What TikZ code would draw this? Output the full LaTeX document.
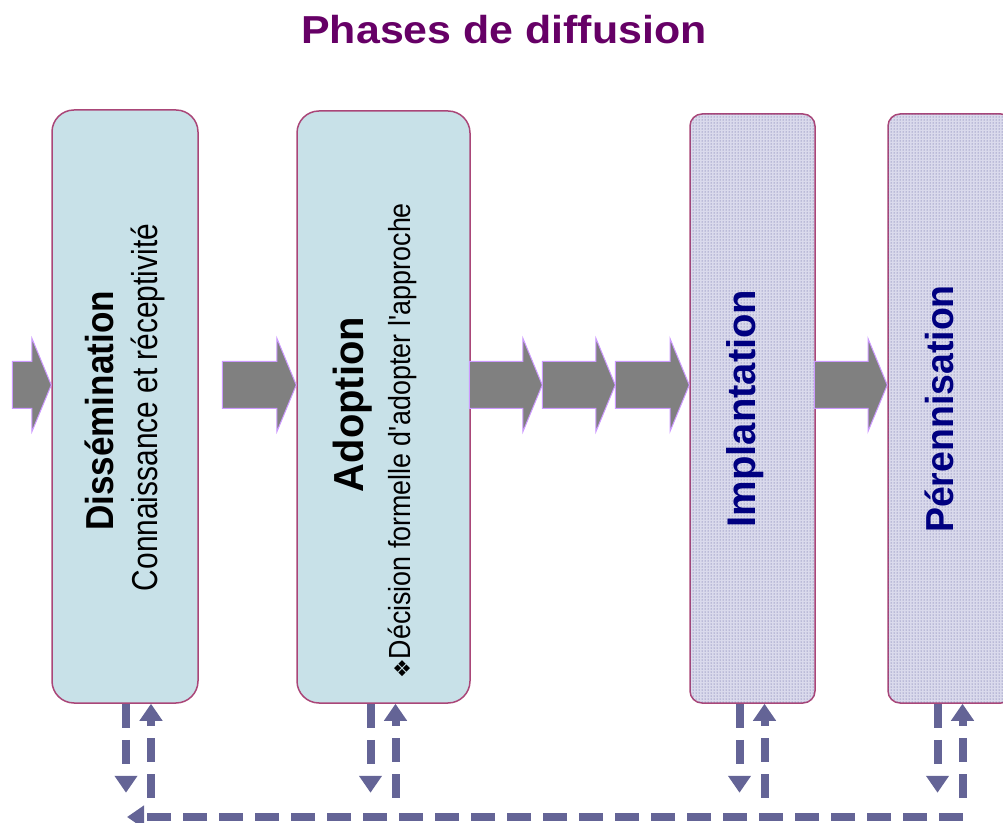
\documentclass[tikz,border=0pt]{standalone}
\usepackage{fontspec}
\setmainfont{Liberation Sans}
\newfontfamily\dingfont{DejaVu Sans}
\usetikzlibrary{shapes.arrows,arrows.meta,patterns}

\definecolor{titlec}{RGB}{102,0,102}
\definecolor{phasefill}{RGB}{200,225,232}
\definecolor{phaseline}{RGB}{170,70,120}
\definecolor{laterfill}{RGB}{218,218,236}
\definecolor{dotc}{RGB}{80,80,150}
\definecolor{namec}{RGB}{0,0,128}
\definecolor{fbc}{RGB}{100,100,150}
\definecolor{flowline}{RGB}{204,153,255}

\newcommand\fsz[1]{\fontsize{#1}{#1}\selectfont}

\tikzstyle{phase}=[draw=phaseline,line width=1.5pt,fill=phasefill,rounded corners=22pt,inner sep=0pt]
\tikzstyle{later}=[draw=phaseline,line width=1.5pt,fill=laterfill,rounded corners=12pt,inner sep=0pt,postaction={pattern=dots,pattern color=dotc}]
\tikzstyle{flow}=[single arrow,draw=flowline,line width=1pt,fill=gray,inner xsep=0pt,inner ysep=23pt,outer sep=0pt,single arrow head extend=23pt,single arrow tip angle=135,anchor=tip]
\tikzstyle{vtitle}=[rotate=90,anchor=base,inner sep=0pt]
\tikzstyle{fb}=[draw=fbc,line width=8pt,dash pattern=on 24pt off 12pt,-{Triangle[width=22pt,length=17pt]}]

\begin{document}
\begin{tikzpicture}[x=1pt,y=1pt]
  \clip (0,0) rectangle (1003,822);
  % title
  \node[anchor=base,text=titlec,font=\fsz{39}\bfseries\addfontfeature{FakeStretch=1.1}] (title) at (504,778) {Phases de diffusion};

  % phases
  \node[phase,minimum width=146pt,minimum height=593pt] (dis) at (125,415.5) {};
  \node[phase,minimum width=173pt,minimum height=592pt] (ado) at (383.5,415) {};
  \node[later,minimum width=125pt,minimum height=589pt] (imp) at (752.5,413.5) {};
  \node[later,minimum width=125pt,minimum height=589pt] (per) at (950.5,413.5) {};

  \node[vtitle,font=\fsz{39}\bfseries\addfontfeature{FakeStretch=0.9}] (dis-t) at (113,411) {Dissémination};
  \node[vtitle,font=\fsz{36}\addfontfeature{FakeStretch=0.83}] (dis-s) at (157,414.5) {Connaissance et réceptivité};
  \node[vtitle,font=\fsz{42}\bfseries\addfontfeature{FakeStretch=0.95}] (ado-t) at (363,417.5) {Adoption};
  \node[vtitle,font=\fsz{30.5}\addfontfeature{FakeStretch=0.88}] (ado-s) at (410,381) {{\dingfont\fsz{22}❖}Décision formelle d\textquotesingle adopter l\textquotesingle approche};
  \node[vtitle,text=namec,font=\fsz{40}\bfseries] (imp-t) at (755,413.5) {Implantation};
  \node[vtitle,text=namec,font=\fsz{39}\bfseries\addfontfeature{FakeStretch=0.96}] (per-t) at (953,413) {Pérennisation};

  % flow between phases
  \node[flow,minimum height=39pt] (f1) at ([yshift=21.5pt]dis.west) {};
  \node[flow,minimum height=74pt] (f2) at ([yshift=22pt]ado.west) {};
  \node[flow,minimum height=74pt] (f5) at ([yshift=23.5pt]imp.west) {};
  \node[flow,minimum height=73pt] (f4) at (f5.tail) {};
  \node[flow,minimum height=73pt] (f3) at (f4.tail) {};
  \node[flow,minimum height=73pt] (f6) at ([yshift=23.5pt]per.west) {};

  % feedback loop
  \draw[fb] ([xshift=1pt]dis.south) -- ++(0,-89pt);
  \draw[fb] ([xshift=26pt,yshift=-94pt]dis.south) -- ([xshift=26pt]dis.south);
  \draw[fb] ([xshift=-13pt]ado.south) -- ++(0,-89pt);
  \draw[fb] ([xshift=12pt,yshift=-94pt]ado.south) -- ([xshift=12pt]ado.south);
  \draw[fb] ([xshift=-13pt]imp.south) -- ++(0,-89pt);
  \draw[fb] ([xshift=12pt,yshift=-94pt]imp.south) -- ([xshift=12pt]imp.south);
  \draw[fb] ([xshift=-13pt]per.south) -- ++(0,-89pt);
  \draw[fb] ([xshift=12pt,yshift=-94pt]per.south) -- ([xshift=12pt]per.south);
  \coordinate (fbR) at (963,5);
  \coordinate (fbL) at (127,5);
  \draw[fb] (fbR) -- (fbL);
\end{tikzpicture}
\end{document}
